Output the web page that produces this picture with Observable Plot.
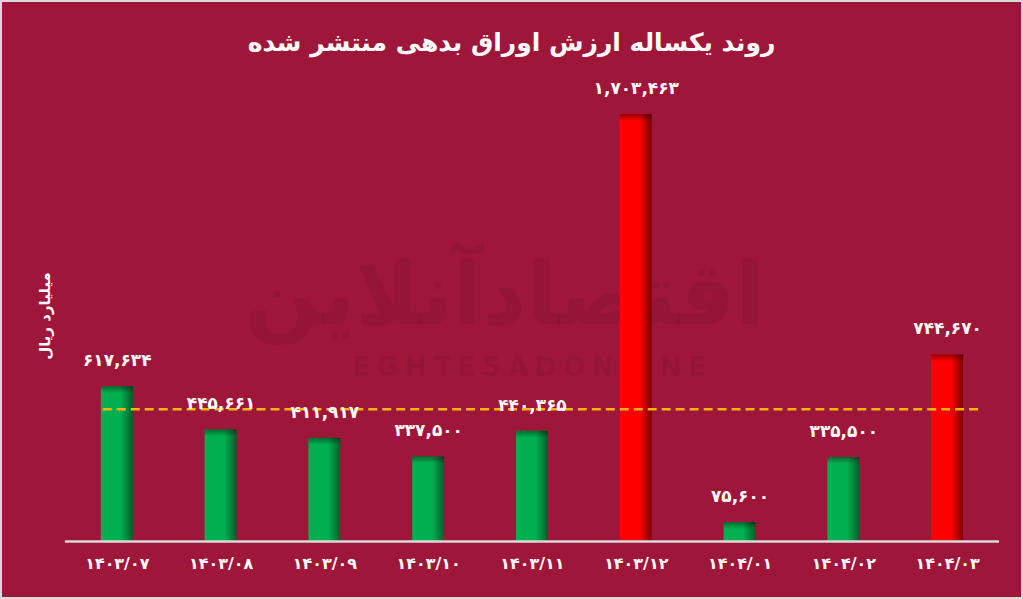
<!DOCTYPE html>
<html>
<head>
<meta charset="utf-8">
<script src="https://cdn.jsdelivr.net/npm/d3@7"></script>
<script src="https://cdn.jsdelivr.net/npm/@observablehq/plot@0.6"></script>
<style>
  html, body { margin: 0; padding: 0; background: #9e173b; }
  #wrap { position: relative; width: 1023px; height: 599px; box-sizing: border-box;
          border: 2px solid #d9d9d9; background: #9e173b; overflow: hidden; font-family: "DejaVu Sans", sans-serif; }
  #title { position: absolute; left: 0; top: 26px; width: 1019px; text-align: center; direction: rtl;
           color: #fff; font-weight: bold; font-size: 25px; line-height: 30px; }
  .wm { position: absolute; color: rgba(0,0,0,0.06); font-weight: bold; white-space: nowrap; }
  #wm1 { left: 243px; top: 240px; width: 520px; text-align: center; font-size: 86px; line-height: 104px; direction: rtl; }
  #wm2 { left: 320px; top: 350px; width: 420px; text-align: center; font-size: 27px; letter-spacing: 6px; line-height: 30px; }
  #chart { position: absolute; left: -2px; top: 68px; }
</style>
</head>
<body>
<div id="wrap">
  <div class="wm" id="wm1">اقتصادآنلاین</div>
  <div class="wm" id="wm2">EGHTESADONLINE</div>
  <div id="title">روند یکساله ارزش اوراق بدهی منتشر شده</div>
  <div id="chart"></div>
</div>
<script>
const dates = ["1403/07", "1403/08", "1403/09", "1403/10", "1403/11", "1403/12", "1404/01", "1404/02", "1404/03"];
const values = [617634, 445661, 411917, 337500, 440365, 1703463, 75600, 335500, 744670];
const highlight = [false, false, false, false, false, true, false, false, true];
const avgValue = 528000;
const yLabel = "میلیارد ریال";

const faDigits = "۰۱۲۳۴۵۶۷۸۹";
const toFa = s => String(s).replace(/\d/g, d => faDigits[+d]);
const data = dates.map((d, i) => ({date: d, value: values[i], hi: highlight[i], idx: i}));

const plot = Plot.plot({
  width: 1023,
  height: 529,
  marginLeft: 65,
  marginRight: 22,
  marginTop: 20,
  marginBottom: 57,
  style: {background: "transparent", fontFamily: "DejaVu Sans, sans-serif"},
  x: {domain: dates, paddingInner: 0.69, paddingOuter: 0.345, axis: null},
  y: {domain: [0, 1800000], axis: null},
  color: {type: "identity"},
  marks: [
    Plot.barY(data, {x: "date", y: "value", fill: d => d.hi ? "url(#gRed)" : "url(#gGreen)"}),
    Plot.barY(data, {x: "date", y: "value", fill: d => `url(#top${d.idx})`}),
    Plot.ruleY([avgValue], {stroke: "#f5b400", strokeWidth: 2.5, strokeDasharray: "9,5", insetLeft: 38, insetRight: 21}),
    Plot.ruleY([0], {stroke: "#d9d9d9", strokeWidth: 2.5}),
    Plot.text(data, {x: "date", y: "value", text: d => toFa(d3.format(",")(d.value)), dy: -26,
      fill: "white", fontSize: 17, fontWeight: "bold"}),
    Plot.text(data, {x: "date", text: d => toFa(d.date), frameAnchor: "bottom", dy: 27,
      fill: "white", fontSize: 16, fontWeight: "bold"}),
    Plot.text([yLabel], {frameAnchor: "left", textAnchor: "middle", text: d => d, rotate: -90, dx: -20,
      fill: "white", fontSize: 15, fontWeight: "bold"})
  ]
});

// gradients (styling only)
const ys = plot.scale("y");
const ns = "http://www.w3.org/2000/svg";
const defs = document.createElementNS(ns, "defs");
function grad(id, horiz, stops) {
  const g = document.createElementNS(ns, "linearGradient");
  g.setAttribute("id", id);
  g.setAttribute("x1", 0); g.setAttribute("y1", 0);
  g.setAttribute("x2", horiz ? 1 : 0); g.setAttribute("y2", horiz ? 0 : 1);
  for (const [o, c, op] of stops) {
    const s = document.createElementNS(ns, "stop");
    s.setAttribute("offset", o); s.setAttribute("stop-color", c);
    s.setAttribute("stop-opacity", op ?? 1);
    g.appendChild(s);
  }
  defs.appendChild(g);
}
grad("gGreen", true, [[0, "#00b050"], [0.62, "#00b050"], [1, "#005e2a"]]);
grad("gRed", true, [[0, "#ff0000"], [0.62, "#ff0000"], [1, "#7a0000"]]);
data.forEach(d => {
  const h = ys.apply(0) - ys.apply(d.value);
  const f = Math.min(0.5, 7 / h);
  grad(`top${d.idx}`, false, [[0, "#000", 0.4], [f, "#000", 0]]);
});
plot.insertBefore(defs, plot.firstChild);
document.getElementById("chart").appendChild(plot);
</script>
</body>
</html>
